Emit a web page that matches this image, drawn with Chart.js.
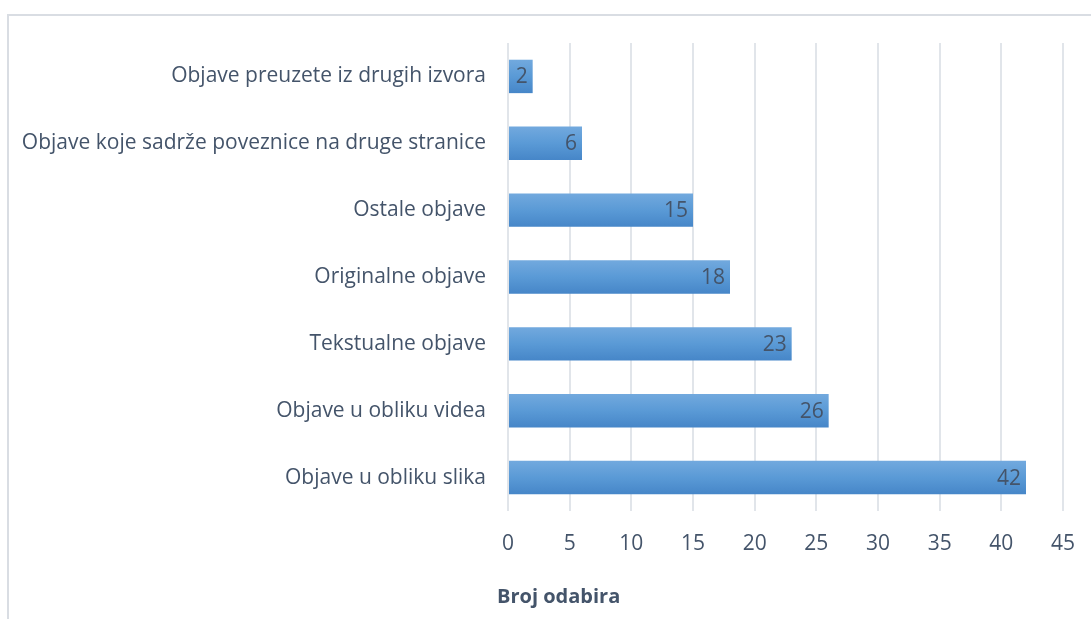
<!DOCTYPE html>
<html>
<head>
<meta charset="utf-8">
<script src="https://cdn.jsdelivr.net/npm/chart.js@4/dist/chart.umd.min.js"></script>
<style>
  html, body { margin: 0; padding: 0; background: #fff; }
  #wrap { width: 1091px; height: 619px; }
</style>
</head>
<body>
<div id="wrap"><canvas id="barChart"></canvas></div>
<script>
const categories = [
    'Objave preuzete iz drugih izvora',
    'Objave koje sadrže poveznice na druge stranice',
    'Ostale objave',
    'Originalne objave',
    'Tekstualne objave',
    'Objave u obliku videa',
    'Objave u obliku slika'
];
const counts = [2, 6, 15, 18, 23, 26, 42];
const axisTitle = 'Broj odabira';

const textColor = '#44546a';
const fontFamily = '"Open Sans", "Noto Sans", sans-serif';

// gradient per bar, top lighter, bottom darker
function barGradient(context) {
    const chart = context.chart;
    const area = chart.chartArea;
    const yScale = chart.scales.y;
    if (!area || !yScale || context.dataIndex === undefined) return '#5b9bd5';
    const yc = yScale.getPixelForValue(context.dataIndex, context.dataIndex);
    const half = (area.bottom - area.top) / categories.length * 0.5 / 2;
    const g = chart.ctx.createLinearGradient(0, yc - half, 0, yc + half);
    g.addColorStop(0, '#72a9de');
    g.addColorStop(0.5, '#5a9ad6');
    g.addColorStop(1, '#4686c8');
    return g;
}

const frame = {
    id: 'frame',
    beforeDraw(chart) {
        const c = chart.ctx;
        c.save();
        c.strokeStyle = '#d9dde3';
        c.lineWidth = 2;
        c.strokeRect(8, 15, chart.width + 20, chart.height + 20);
        c.restore();
    }
};

const valueLabels = {
    id: 'valueLabels',
    afterDatasetsDraw(chart) {
        const c = chart.ctx;
        const meta = chart.getDatasetMeta(0);
        c.save();
        c.font = '21px ' + fontFamily;
        c.fillStyle = textColor;
        c.textAlign = 'right';
        c.textBaseline = 'middle';
        meta.data.forEach((bar, i) => {
            c.fillText(String(counts[i]), bar.x - 5, bar.y + 1);
        });
        c.restore();
    }
};

// axis title sits a little left of the plot start, as in the original
const xTitle = {
    id: 'xTitle',
    afterDraw(chart) {
        const c = chart.ctx;
        c.save();
        c.font = 'bold 20px ' + fontFamily;
        c.fillStyle = textColor;
        c.textAlign = 'left';
        c.textBaseline = 'middle';
        c.fillText(axisTitle, chart.chartArea.left - 11, 597);
        c.restore();
    }
};

const ctx = document.getElementById('barChart').getContext('2d');
const barChart = new Chart(ctx, {
    type: 'bar',
    data: {
        labels: categories,
        datasets: [{
            label: axisTitle,
            data: counts,
            backgroundColor: barGradient,
            borderWidth: 0,
            categoryPercentage: 1,
            barPercentage: 0.5
        }]
    },
    options: {
        indexAxis: 'y',
        responsive: true,
        maintainAspectRatio: false,
        animation: false,
        layout: { padding: { top: 43, right: 28, left: 0, bottom: 0 } },
        plugins: {
            legend: { display: false },
            tooltip: { enabled: false }
        },
        scales: {
            x: {
                min: 0,
                max: 45,
                ticks: {
                    stepSize: 5,
                    color: textColor,
                    font: { family: fontFamily, size: 21 },
                    padding: 20
                },
                grid: { color: '#e1e5ea', lineWidth: 2, drawTicks: false },
                border: { display: false },
                afterFit(scale) {
                    scale.height = 108;
                    scale.paddingLeft = 0;
                    scale.paddingRight = 0;
                }
            },
            y: {
                ticks: {
                    color: textColor,
                    font: { family: fontFamily, size: 21 },
                    padding: 22
                },
                grid: { display: false, drawTicks: false },
                border: { display: false },
                afterFit(scale) { scale.width = 508; }
            }
        }
    },
    plugins: [frame, valueLabels, xTitle]
});
</script>
</body>
</html>
